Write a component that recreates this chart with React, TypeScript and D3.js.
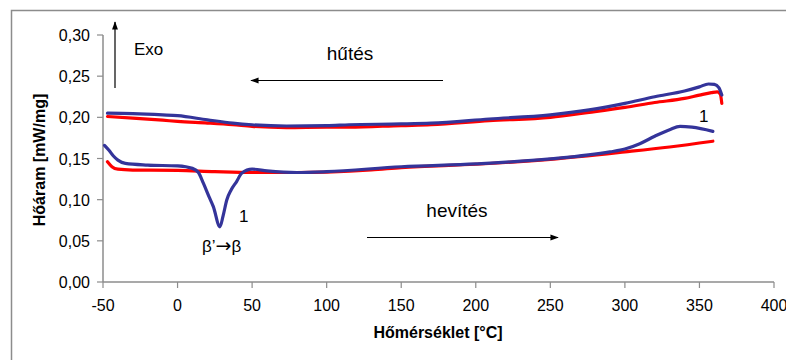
import React from "react";
import * as d3 from "d3";

const xTicks = [-50, 0, 50, 100, 150, 200, 250, 300, 350, 400];
const yTicks = [0, 0.05, 0.1, 0.15, 0.2, 0.25, 0.3];

const coolBlueT = [-47, -30, -10, 0, 20, 37, 50, 73, 100, 115, 150, 170, 209, 250, 276, 300, 320, 340, 350, 356, 360, 363, 365];
const coolBlueV = [0.205, 0.2045, 0.203, 0.202, 0.197, 0.193, 0.191, 0.1895, 0.19, 0.191, 0.192, 0.193, 0.198, 0.203, 0.209, 0.217, 0.225, 0.232, 0.237, 0.2405, 0.24, 0.236, 0.227];

const coolRedT = [-47, -30, -10, 0, 20, 37, 50, 73, 100, 115, 150, 170, 209, 250, 276, 300, 320, 340, 350, 358, 362, 364, 365];
const coolRedV = [0.201, 0.199, 0.1965, 0.195, 0.193, 0.191, 0.189, 0.1875, 0.188, 0.188, 0.19, 0.191, 0.196, 0.2, 0.206, 0.212, 0.218, 0.223, 0.227, 0.23, 0.231, 0.228, 0.217];

const heatRedT = [-47, -44, -40, -30, 0, 25, 50, 80, 100, 130, 150, 200, 250, 300, 330, 359];
const heatRedV = [0.146, 0.14, 0.137, 0.136, 0.1355, 0.134, 0.133, 0.133, 0.1335, 0.136, 0.139, 0.143, 0.149, 0.158, 0.164, 0.171];

const heatBlueT = [-49, -46, -43, -40, -35, -20, 0, 10, 14, 17.3, 21, 24, 28.4, 30.5, 33, 36, 39.6, 43, 50, 60, 80, 100, 150, 200, 250, 290, 300, 310, 320, 330, 337, 345, 359];
const heatBlueV = [0.166, 0.16, 0.153, 0.148, 0.144, 0.142, 0.141, 0.138, 0.133, 0.12, 0.104, 0.0915, 0.067, 0.08, 0.0996, 0.112, 0.122, 0.132, 0.137, 0.135, 0.133, 0.134, 0.14, 0.1435, 0.1495, 0.158, 0.1615, 0.168, 0.177, 0.185, 0.189, 0.188, 0.183];

const BLUE = "#34349a";
const RED = "#ff0000";
const AXIS = "#8c8c8c";
const FONT = "Liberation Sans, Arial, sans-serif";

export default function App() {
  const x = d3.scaleLinear().domain([-50, 400]).range([103, 774]);
  const y = d3.scaleLinear().domain([0, 0.3]).range([282, 35]);
  const line = d3
    .line<[number, number]>()
    .x((d) => x(d[0]))
    .y((d) => y(d[1]))
    .curve(d3.curveMonotoneX);
  const zip = (t: number[], v: number[]) => t.map((tt, i) => [tt, v[i]] as [number, number]);
  const fmt = (v: number) => v.toFixed(2).replace(".", ",");

  const series = [
    { d: zip(heatRedT, heatRedV), c: RED },
    { d: zip(coolRedT, coolRedV), c: RED },
    { d: zip(heatBlueT, heatBlueV), c: BLUE },
    { d: zip(coolBlueT, coolBlueV), c: BLUE },
  ];

  return (
    <svg
      width={786}
      height={360}
      style={{ position: "absolute", left: 0, top: 0, background: "#fff" }}
      fontFamily={FONT}
    >
      <defs>
        <marker id="ah" viewBox="0 0 10 10" refX="9" refY="5" markerWidth="7" markerHeight="7" orient="auto-start-reverse">
          <path d="M0,1.5 L10,5 L0,8.5 z" fill="#000" />
        </marker>
      </defs>
      <rect x={11.5} y={10.5} width={900} height={500} fill="none" stroke={AXIS} strokeWidth={1.5} />

      {/* axes */}
      <line x1={103} x2={103} y1={y(0.3)} y2={y(0)} stroke={AXIS} strokeWidth={1.5} />
      <line x1={103} x2={774} y1={y(0)} y2={y(0)} stroke={AXIS} strokeWidth={1.5} />
      {yTicks.map((t) => (
        <g key={"y" + t}>
          <line x1={97} x2={103} y1={y(t)} y2={y(t)} stroke={AXIS} strokeWidth={1.2} />
          <text x={90} y={y(t) + 6} textAnchor="end" fontSize={16} fill="#000">
            {fmt(t)}
          </text>
        </g>
      ))}
      {xTicks.map((t) => (
        <g key={"x" + t}>
          <line x1={x(t)} x2={x(t)} y1={y(0)} y2={y(0) + 6} stroke={AXIS} strokeWidth={1.2} />
          <text x={x(t)} y={311} textAnchor="middle" fontSize={16} fill="#000">
            {t}
          </text>
        </g>
      ))}
      <text x={438} y={338} textAnchor="middle" fontSize={16} fontWeight="bold" fill="#000">
        Hőmérséklet [°C]
      </text>
      <text
        transform="translate(45,160) rotate(-90)"
        textAnchor="middle"
        fontSize={16}
        fontWeight="bold"
        fill="#000"
      >
        Hőáram [mW/mg]
      </text>

      {/* curves */}
      {series.map((s, i) => (
        <path key={i} d={line(s.d) || ""} fill="none" stroke={s.c} strokeWidth={3.2} strokeLinejoin="round" strokeLinecap="round" />
      ))}

      {/* annotations */}
      <line x1={115} x2={115} y1={88} y2={22} stroke="#000" strokeWidth={1.2} markerEnd="url(#ah)" />
      <text x={134} y={55} fontSize={17} fill="#000">Exo</text>
      <text x={350} y={60} textAnchor="middle" fontSize={19} fill="#000">hűtés</text>
      <line x1={443} x2={251} y1={80.5} y2={80.5} stroke="#000" strokeWidth={1.2} markerEnd="url(#ah)" />
      <text x={457} y={217} textAnchor="middle" fontSize={19} fill="#000">hevítés</text>
      <line x1={367} x2={558} y1={237.5} y2={237.5} stroke="#000" strokeWidth={1.2} markerEnd="url(#ah)" />
      <text x={239} y={222} fontSize={17} fill="#000">1</text>
      <text x={202} y={252} fontSize={17} fill="#000">
        β’<tspan fontFamily="DejaVu Sans" fontSize={19}>→</tspan>β
      </text>
      <text x={699} y={122} fontSize={17} fill="#000">1</text>
    </svg>
  );
}
